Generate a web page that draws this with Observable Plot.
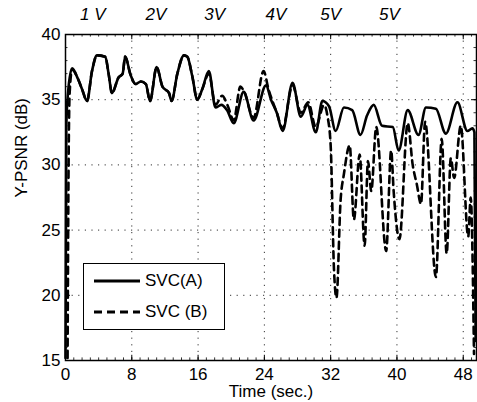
<!DOCTYPE html>
<html>
<head>
<meta charset="utf-8">
<script src="https://cdn.jsdelivr.net/npm/d3@7"></script>
<script src="https://cdn.jsdelivr.net/npm/@observablehq/plot@0.6"></script>
<style>
  body { margin: 0; background: #fff; }
  #wrap { position: relative; width: 477px; height: 402px; font-family: "Liberation Sans", Arial, sans-serif; }
  #legend { position: absolute; left: 83px; top: 263px; width: 142px; height: 67px; border: 1.3px solid #000; background: #fff; box-sizing: border-box; }
  .row { position: absolute; left: 9px; height: 20px; display: flex; align-items: center; font-size: 17px; }
  .row svg { margin-right: 4px; }
</style>
</head>
<body>
<div id="wrap"></div>
<script>
// ---- data ----
const seriesNames = ["SVC(A)", "SVC (B)"];
const tA = [0, 0.1, 0.3, 0.8, 1.5, 2.0, 2.6, 3.2, 3.8, 4.8, 5.2, 5.6, 6.4, 6.9, 7.2, 7.85, 8.45, 9.1, 9.7, 10.2, 11.0, 11.7, 12.5, 12.8, 13.5, 14.3, 14.7, 15.3, 15.9, 16.5, 17.3, 18.1, 18.8, 19.5, 20.3, 21.5, 22.7, 24.2, 24.8, 25.5, 26.2, 27.4, 28.4, 29.2, 30.2, 31.0, 31.8, 32.6, 33.6, 34.6, 35.6, 36.4, 37.2, 38.2, 39.5, 40.2, 41.3, 42.6, 43.5, 44.7, 45.9, 47.3, 48.5, 49.1, 49.35, 49.5];
const yA = [15.2, 33.0, 35.5, 37.4, 36.6, 35.8, 34.9, 37.2, 38.4, 38.3, 37.0, 35.5, 36.7, 37.0, 38.3, 36.9, 36.2, 36.4, 36.2, 34.9, 37.5, 36.0, 35.5, 34.9, 37.0, 38.4, 38.3, 36.8, 35.0, 35.8, 37.2, 34.4, 34.6, 34.2, 33.2, 35.6, 33.4, 36.1, 35.0, 34.0, 32.6, 36.3, 33.7, 34.6, 32.5, 34.9, 34.5, 32.6, 34.4, 34.2, 32.3, 33.8, 34.6, 33.0, 32.9, 31.1, 34.2, 32.3, 34.4, 34.3, 32.4, 34.8, 32.6, 32.8, 32.5, 16.5];
const tB = [0.25, 0.35, 0.5, 0.8, 1.5, 2.0, 2.6, 3.2, 3.8, 4.8, 5.2, 5.6, 6.4, 6.9, 7.2, 7.85, 8.45, 9.1, 9.7, 10.2, 11.0, 11.7, 12.5, 12.8, 13.5, 14.3, 14.7, 15.3, 15.9, 16.5, 17.3, 18.1, 18.9, 19.6, 20.3, 21.1, 21.5, 22.7, 23.9, 24.5, 25.5, 26.2, 27.4, 28.4, 29.3, 30.2, 31.2, 31.6, 32.0, 32.4, 32.7, 33.2, 33.6, 34.3, 34.8, 35.5, 36.1, 36.5, 36.9, 37.5, 38.7, 39.3, 39.6, 40.3, 41.3, 41.9, 42.4, 42.9, 43.4, 44.7, 45.4, 46.0, 46.5, 46.9, 47.7, 48.6, 48.9, 49.3];
const yB = [15.2, 28.0, 35.5, 37.3, 36.6, 35.8, 34.9, 37.2, 38.4, 38.3, 37.0, 35.5, 36.7, 37.0, 38.3, 36.9, 36.2, 36.4, 36.2, 34.9, 37.5, 36.0, 35.5, 34.9, 37.0, 38.4, 38.3, 36.8, 35.0, 35.8, 37.0, 34.6, 35.3, 34.5, 33.4, 36.0, 35.7, 33.6, 37.2, 35.8, 34.0, 32.8, 36.1, 34.0, 34.8, 32.9, 34.6, 33.8, 31.5, 22.0, 19.8, 27.3, 29.3, 31.5, 25.8, 30.8, 23.8, 30.3, 28.0, 32.9, 23.4, 31.1, 28.0, 24.3, 33.2, 30.0, 28.5, 27.0, 33.3, 21.4, 32.0, 23.2, 30.5, 29.0, 33.0, 24.5, 27.5, 15.5];
const xTicks = [0, 8, 16, 24, 32, 40, 48];
const yTicks = [15, 20, 25, 30, 35, 40];
const topLabels = ["1 V", "2V", "3V", "4V", "5V", "5V"];
const topLabelT = [3.3, 10.9, 18.0, 25.4, 32.0, 39.1];
const xLabel = "Time (sec.)";
const yLabel = "Y-PSNR (dB)";

const dataA = tA.map((t, i) => ({t, v: yA[i]}));
const dataB = tB.map((t, i) => ({t, v: yB[i]}));
const topData = topLabels.map((s, i) => ({s, t: topLabelT[i]}));
const xMinor = d3.range(0, 50, 1);
const yMinor = d3.range(15, 40.01, 1);

const chart = Plot.plot({
  width: 477, height: 402,
  marginLeft: 65, marginRight: 1, marginTop: 34, marginBottom: 42,
  style: {fontFamily: '"Liberation Sans", Arial, sans-serif', fontSize: "17px", background: "#fff", color: "#000"},
  x: {domain: [0, 49.6]},
  y: {domain: [15, 40]},
  marks: [
    Plot.ruleX(xTicks.slice(1), {x: d => d, stroke: "#333", strokeDasharray: "1.2,5.4", strokeWidth: 1}),
    Plot.ruleY(yTicks.slice(1, -1), {y: d => d, stroke: "#333", strokeDasharray: "1.2,5.4", strokeWidth: 1}),
    // inward major ticks
    Plot.ruleX(xTicks, {x: d => d, y1: 15, y2: 15.4, stroke: "#000"}),
    Plot.ruleX(xTicks, {x: d => d, y1: 39.6, y2: 40, stroke: "#000"}),
    Plot.ruleY(yTicks, {y: d => d, x1: 0, x2: 0.6, stroke: "#000"}),
    Plot.ruleY(yTicks, {y: d => d, x1: 49.0, x2: 49.6, stroke: "#000"}),
    // minor ticks
    Plot.ruleX(xMinor, {x: d => d, y1: 15, y2: 15.2, stroke: "#000", strokeWidth: 0.8}),
    Plot.ruleX(xMinor, {x: d => d, y1: 39.8, y2: 40, stroke: "#000", strokeWidth: 0.8}),
    Plot.ruleY(yMinor, {y: d => d, x1: 0, x2: 0.3, stroke: "#000", strokeWidth: 0.8}),
    Plot.ruleY(yMinor, {y: d => d, x1: 49.3, x2: 49.6, stroke: "#000", strokeWidth: 0.8}),
    Plot.line(dataB, {x: "t", y: "v", stroke: "#000", strokeWidth: 2.6, strokeDasharray: "7,5", curve: "monotone-x"}),
    Plot.line(dataA, {x: "t", y: "v", stroke: "#000", strokeWidth: 2.6, curve: "monotone-x"}),
    Plot.frame({stroke: "#000", strokeWidth: 1.5}),
    Plot.axisX(xTicks, {tickSize: 0, tickPadding: 7, fontSize: 17, label: null}),
    Plot.axisY(yTicks, {tickSize: 0, tickPadding: 5, fontSize: 17, label: null}),
    Plot.text(topData, {x: "t", y: () => 40, text: "s", dy: -20, fontStyle: "italic", fontSize: 17, lineAnchor: "middle", clip: false}),
    Plot.text([xLabel], {frameAnchor: "bottom", dy: 31, fontSize: 17, lineAnchor: "middle"}),
    Plot.text([yLabel], {frameAnchor: "left", dx: -44, rotate: -90, fontSize: 17, lineAnchor: "middle"})
  ]
});
const wrap = document.getElementById("wrap");
wrap.appendChild(chart);

const legend = document.createElement("div");
legend.id = "legend";
legend.innerHTML = `
  <div class="row" style="top:7px"><svg width="48" height="6"><line x1="1" y1="3" x2="47" y2="3" stroke="#000" stroke-width="3"/></svg>${seriesNames[0]}</div>
  <div class="row" style="top:38px"><svg width="48" height="6"><line x1="1" y1="3" x2="47" y2="3" stroke="#000" stroke-width="3" stroke-dasharray="8,5"/></svg>${seriesNames[1]}</div>`;
wrap.appendChild(legend);
</script>
</body>
</html>
